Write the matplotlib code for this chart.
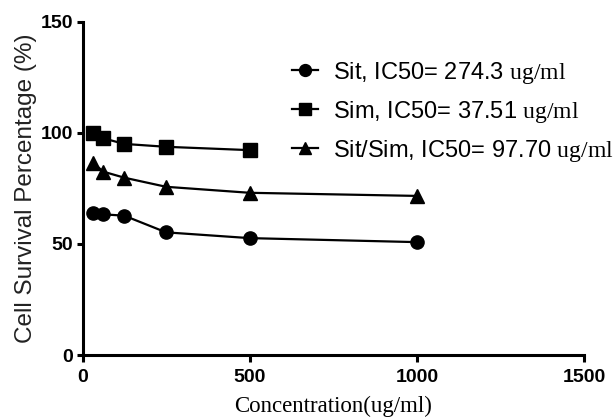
import matplotlib
matplotlib.use('Agg')
import matplotlib.pyplot as plt

plt.rcParams['font.family'] = ['Liberation Sans', 'DejaVu Sans']
plt.rcParams['mathtext.fontset'] = 'custom'
plt.rcParams['mathtext.rm'] = 'Liberation Serif'

# concentrations (ug/ml)
conc = [31.25, 62.5, 125, 250, 500, 1000]
conc_sim = [31.25, 62.5, 125, 250, 500]

# survival (%)
sit = [63.8, 63.3, 62.7, 55.2, 52.6, 50.8]
sim = [100.0, 97.5, 95.0, 93.7, 92.2]
sit_sim = [86.5, 82.5, 79.8, 75.7, 73.0, 71.6]

labels = ['Sit, IC50= 274.3 $\\mathrm{ug/ml}$',
          'Sim, IC50= 37.51 $\\mathrm{ug/ml}$',
          'Sit/Sim, IC50= 97.70 $\\mathrm{ug/ml}$']

fig = plt.figure(figsize=(6.16, 4.19), dpi=100)
ax = fig.add_axes([82.5/616, 1-355/419, (584-82.5)/616, (355-21.7)/419])

ax.plot(conc, sit, color='k', lw=1.6, marker='o', ms=9.5, label=labels[0])
ax.plot(conc_sim, sim, color='k', lw=1.6, marker='s', ms=9.5, label=labels[1])
ax.plot(conc, sit_sim, color='k', lw=1.6, marker='^', ms=10, label=labels[2])

ax.set_xlim(0, 1500)
ax.set_ylim(0, 150)
ax.set_xticks([0, 500, 1000, 1500])
ax.set_yticks([0, 50, 100, 150])

for s in ['top', 'right']:
    ax.spines[s].set_visible(False)
for s in ['left', 'bottom']:
    ax.spines[s].set_linewidth(2.2)

ax.tick_params(axis='x', direction='out', length=5, width=2.2, pad=5)
ax.tick_params(axis='y', direction='out', length=4, width=2.2, pad=3)
for lab in ax.get_xticklabels() + ax.get_yticklabels():
    lab.set_fontweight('bold')
    lab.set_fontsize(14)

ax.set_xlabel('Concentration(ug/ml)', family='Liberation Serif', fontsize=16.5)
ax.set_ylabel('Cell Survival Percentage (%)', fontsize=17.5, color='#222222')
ax.xaxis.set_label_coords(0.5, (355-396)/333.3)
ax.yaxis.set_label_coords((37-82.5)/501.5, 0.5)

leg = ax.legend(loc='center left', bbox_to_anchor=(291.7/616, 1-111.7/419),
                bbox_transform=fig.transFigure, frameon=False, fontsize=17,
                handlelength=1.1, handletextpad=0.64, labelspacing=0.55,
                borderpad=0, borderaxespad=0, markerscale=0.9)

fig.savefig('out.png', dpi=100)
